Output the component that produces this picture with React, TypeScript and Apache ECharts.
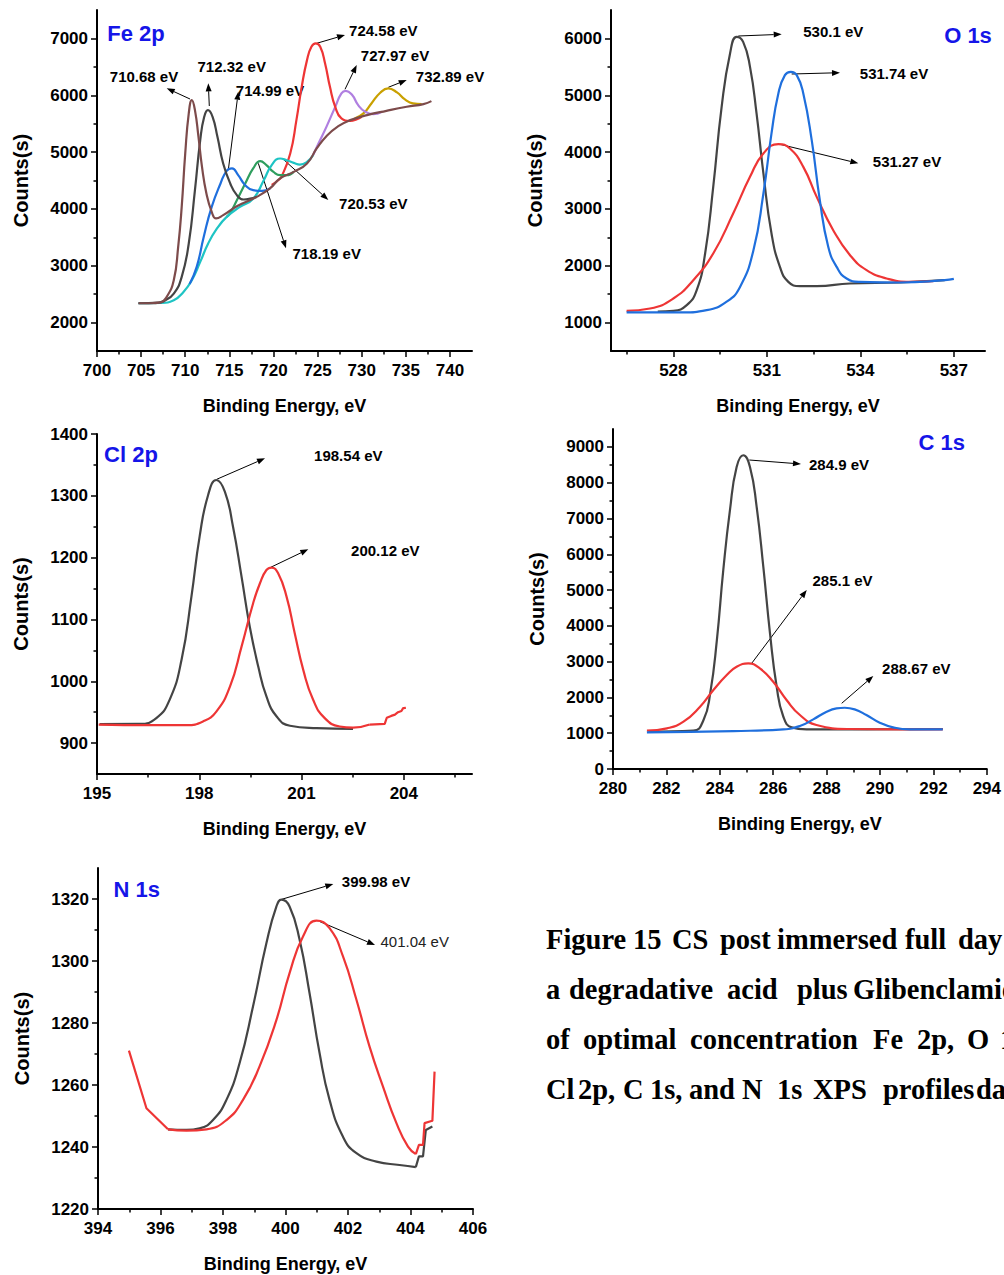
import React, { useEffect, useRef } from 'react';
import * as echarts from 'echarts';

// ---------------- Fe 2p ----------------
const feBrown = [[704.7,2340],[706.0,2340],[707.2,2355],[707.9,2452],[708.7,2746],[709.2,3332],[709.6,4036],[710.0,4976],[710.4,5680],[710.75,5914],[711.1,5738],[711.5,5268],[711.9,4740],[712.4,4272],[713.0,3948],[713.5,3832],[714.3,3890],[715.85,4048],[718.1,4212],[719.6,4360],[720.75,4536],[722.3,4652],[723.8,4800],[724.9,5064],[726.0,5280],[727.35,5456],[728.7,5562],[730.6,5650],[732.8,5726],[735.1,5797],[737.0,5844],[737.9,5897]];
const feGray = [[704.7,2340],[707.0,2350],[707.6,2380],[708.7,2510],[709.6,2804],[710.4,3392],[711.1,4330],[711.7,5210],[712.15,5620],[712.57,5738],[713.1,5620],[713.65,5268],[714.3,4800],[715.1,4448],[715.85,4242],[716.6,4166],[717.35,4180],[718.1,4212]];
const feCyan = [[704.7,2340],[707.2,2345],[708.7,2394],[709.8,2540],[710.75,2746],[711.7,3068],[712.6,3392],[713.6,3656],[714.7,3860],[716.2,4036],[717.7,4180],[718.9,4505],[719.8,4770],[720.75,4887],[721.5,4857],[722.3,4810],[723.0,4781],[723.8,4828],[724.5,4946]];
const feBlue = [[710.5,2680],[711.3,2980],[712.1,3510],[713.0,4036],[714.0,4448],[714.7,4670],[715.3,4712],[716.0,4594],[716.8,4418],[717.7,4330],[718.7,4318],[719.6,4360]];
const feGreen = [[714.7,3860],[715.1,3930],[715.85,4154],[716.8,4448],[717.7,4712],[718.5,4840],[719.2,4770],[720.0,4652],[720.75,4594],[721.5,4594],[722.3,4652]];
const feRed = [[719.8,4420],[720.5,4500],[720.9,4565],[721.9,4976],[722.6,5562],[723.2,6148],[723.8,6618],[724.3,6852],[724.8,6912],[725.3,6852],[725.85,6560],[726.4,6148],[727.0,5796],[727.7,5592],[728.7,5550],[729.4,5574],[730.0,5620]];
const fePurple = [[724.5,4950],[725.1,5152],[726.0,5444],[727.0,5796],[727.7,6032],[728.2,6078],[728.9,6008],[729.6,5826],[730.4,5709],[731.3,5668],[732.3,5710]];
const feGold = [[729.2,5590],[730.2,5680],[731.1,5856],[732.1,6044],[733.0,6120],[734.0,6050],[734.9,5926],[735.8,5856],[736.8,5845]];
const feXTicks = [700,705,710,715,720,725,730,735,740];
const feXMinor = [702.5,707.5,712.5,717.5,722.5,727.5,732.5,737.5];
const feYTicks = [2000,3000,4000,5000,6000,7000];
const feYMinor = [2500,3500,4500,5500,6500];

// ---------------- O 1s ----------------
const oGray = [[527.5,1195],[528.0,1206],[528.43,1306],[528.75,1570],[529.02,2216],[529.28,3388],[529.55,4796],[529.82,5736],[530.03,6028],[530.24,5940],[530.46,5500],[530.67,4680],[530.89,3624],[531.15,2568],[531.42,1980],[531.69,1716],[532.06,1640],[532.6,1640],[533.67,1688],[535.27,1705],[536.71,1746]];
const oRed = [[526.5,1206],[527.25,1248],[528.0,1424],[528.64,1746],[529.28,2216],[529.92,2920],[530.46,3564],[530.89,3976],[531.37,4140],[531.74,4064],[532.17,3740],[532.6,3212],[533.13,2626],[533.67,2186],[534.2,1922],[534.84,1776],[535.59,1716],[536.34,1728]];
const oBlue = [[526.5,1178],[528.3,1178],[529.07,1218],[529.7,1364],[530.14,1628],[530.57,2274],[530.89,3272],[531.15,4328],[531.37,5032],[531.58,5354],[531.77,5412],[531.96,5354],[532.17,5032],[532.44,4210],[532.7,3154],[532.97,2333],[533.24,1980],[533.56,1776],[533.99,1716],[535.27,1705],[536.71,1746],[537.0,1769]];
const oXTicks = [528,531,534,537];
const oXMinor = [526.5,529.5,532.5,535.5];
const oYTicks = [1000,2000,3000,4000,5000,6000];
const oYMinor = [1500,2500,3500,4500,5500];

// ---------------- Cl 2p ----------------
const clGray = [[195.08,930.7],[196.25,931],[196.74,940.4],[197.13,970],[197.48,1034.7],[197.77,1137],[198.01,1234],[198.26,1301.4],[198.5,1325.6],[198.75,1306.7],[198.99,1250],[199.24,1169.3],[199.48,1088.5],[199.73,1023.8],[199.97,975.4],[200.27,943],[200.66,928],[201.44,924.3],[202.51,923.1]];
const clRed = [[195.05,930],[196.55,929],[197.62,929],[198.11,935],[198.5,951],[198.9,991.5],[199.24,1056],[199.58,1126.3],[199.78,1158.6],[199.97,1180],[200.12,1184],[200.31,1175],[200.56,1137],[200.8,1077.8],[201.05,1018.5],[201.34,970],[201.68,940.4],[202.12,926.9],[202.51,925],[203.0,930]];
const clRedTail = [[203.0,930],[203.44,931],[203.5,941],[203.63,944],[203.74,946],[203.83,950],[203.93,952],[203.98,956.6],[204.06,957]];
const clXTicks = [195,198,201,204];
const clXMinor = [196.5,199.5,202.5,205.5];
const clYTicks = [900,1000,1100,1200,1300,1400];
const clYMinor = [950,1050,1150,1250,1350];

// ---------------- C 1s ----------------
const cGray = [[281.33,1041],[283.01,1070],[283.39,1368],[283.64,2113],[283.89,3602],[284.13,5556],[284.38,7231],[284.63,8440],[284.88,8767],[285.13,8440],[285.38,7323],[285.63,5648],[285.88,3788],[286.13,2298],[286.38,1460],[286.69,1164],[287.25,1108],[289.49,1108],[292.35,1117]];
const cRed = [[281.27,1070],[282.02,1136],[282.64,1322],[283.26,1740],[283.76,2206],[284.26,2624],[284.63,2857],[285.07,2950],[285.5,2811],[286.0,2438],[286.5,1927],[287.0,1508],[287.62,1228],[288.87,1117],[290.74,1108],[292.35,1108]];
const cBlue = [[281.27,1024],[284.51,1061],[286.38,1108],[287.0,1201],[287.5,1387],[288.0,1600],[288.37,1694],[288.68,1712],[289.05,1666],[289.49,1508],[289.99,1294],[290.49,1164],[291.11,1108],[292.35,1108]];
const cXTicks = [280,282,284,286,288,290,292,294];
const cXMinor = [281,283,285,287,289,291,293];
const cYTicks = [0,1000,2000,3000,4000,5000,6000,7000,8000,9000];
const cYMinor = [500,1500,2500,3500,4500,5500,6500,7500,8500];

// ---------------- N 1s ----------------
const nGray = [[396.24,1245.7],[396.83,1245.5],[397.25,1246],[397.68,1248.7],[398.11,1255.2],[398.53,1267],[398.96,1285.3],[399.39,1305.8],[399.71,1317.6],[399.87,1319.8],[400.13,1317.6],[400.45,1306.9],[400.77,1289.6],[401.09,1270.3],[401.41,1255.2],[401.84,1243.3],[402.27,1238],[402.91,1235.3],[403.65,1234.2],[404.17,1233.5]];
const nGrayTail = [[404.17,1233.5],[404.27,1237],[404.4,1237],[404.49,1245.5],[404.7,1246.6]];
const nRedHead = [[394.99,1271.1],[395.55,1252.5],[396.24,1245.7]];
const nRed = [[396.24,1245.7],[396.83,1245.3],[397.47,1245.7],[398.11,1248.7],[398.64,1255.2],[399.17,1266],[399.71,1281],[400.13,1296.1],[400.56,1307.9],[400.99,1313],[401.41,1310.6],[401.84,1301.5],[402.27,1287.5],[402.69,1272.4],[403.12,1259.5],[403.55,1247.7],[403.92,1240.1],[404.17,1237.7]];
const nRedTail = [[404.17,1237.7],[404.27,1240.7],[404.4,1240.7],[404.45,1247.7],[404.67,1248.4],[404.7,1248.4],[404.77,1264.3]];
const nXTicks = [394,396,398,400,402,404,406];
const nXMinor = [395,397,399,401,403,405];
const nYTicks = [1220,1240,1260,1280,1300,1320];
const nYMinor = [1230,1250,1270,1290,1310];

const SANS = '"Liberation Sans", Arial, Helvetica, sans-serif';
const SERIF = '"Liberation Serif", "Times New Roman", Times, serif';

const C = {
  brown: '#7d4b4b', gray: '#444444', blue: '#1f6fdd', green: '#2f9e5e', cyan: '#1ec4c4',
  red: '#ee3535', purple: '#b07fe0', gold: '#c9a000', title: '#1515e8',
};

const panels = [
  { grid: { left: 97, top: 10, width: 375, height: 341 }, x: [700, 742.5], y: [1500, 7500], xt: feXTicks, xm: feXMinor, yt: feYTicks, ym: feYMinor },
  { grid: { left: 611, top: 10, width: 374, height: 341 }, x: [526, 538], y: [500, 6500], xt: oXTicks, xm: oXMinor, yt: oYTicks, ym: oYMinor },
  { grid: { left: 97, top: 434, width: 375, height: 340 }, x: [195, 206], y: [850, 1400], xt: clXTicks, xm: clXMinor, yt: clYTicks, ym: clYMinor },
  { grid: { left: 613, top: 429, width: 374, height: 340 }, x: [280, 294], y: [0, 9500], xt: cXTicks, xm: cXMinor, yt: cYTicks, ym: cYMinor },
  { grid: { left: 98, top: 868, width: 375, height: 341 }, x: [394, 406], y: [1220, 1330], xt: nXTicks, xm: nXMinor, yt: nYTicks, ym: nYMinor },
];

const seriesDefs = [
  { p: 0, d: feGold, c: C.gold }, { p: 0, d: fePurple, c: C.purple }, { p: 0, d: feRed, c: C.red },
  { p: 0, d: feGreen, c: C.green }, { p: 0, d: feCyan, c: C.cyan }, { p: 0, d: feBlue, c: C.blue },
  { p: 0, d: feGray, c: C.gray }, { p: 0, d: feBrown, c: C.brown },
  { p: 1, d: oGray, c: C.gray }, { p: 1, d: oRed, c: C.red }, { p: 1, d: oBlue, c: C.blue },
  { p: 2, d: clGray, c: C.gray }, { p: 2, d: clRed, c: C.red }, { p: 2, d: clRedTail, c: C.red, straight: true },
  { p: 3, d: cGray, c: C.gray }, { p: 3, d: cRed, c: C.red }, { p: 3, d: cBlue, c: C.blue },
  { p: 4, d: nGray, c: C.gray }, { p: 4, d: nGrayTail, c: C.gray, straight: true },
  { p: 4, d: nRedHead, c: C.red, straight: true },
  { p: 4, d: nRed, c: C.red }, { p: 4, d: nRedTail, c: C.red, straight: true },
];

// annotations: [x1, y1, x2, y2, label, labelX, labelY, bold]
const annotations: [number, number, number, number, string, number, number, boolean][] = [
  [190, 99, 166.7, 88.3, '710.68 eV', 144, 76.7, true],
  [209.3, 106, 208.3, 83.3, '712.32 eV', 231.7, 66, true],
  [228.3, 170, 238.3, 91.7, '714.99 eV', 270, 90, true],
  [258.3, 163.3, 286, 248.3, '718.19 eV', 326.7, 253.3, true],
  [283.3, 159.3, 328.3, 200, '720.53 eV', 373.3, 203.3, true],
  [316.7, 43.3, 345, 35, '724.58 eV', 383.3, 30, true],
  [345, 89.3, 356.7, 65, '727.97 eV', 395, 55, true],
  [388.3, 87.3, 406.7, 80, '732.89 eV', 450, 76.7, true],
  [738.3, 36, 781.7, 34.3, '530.1 eV', 833.3, 31.7, true],
  [791.7, 74, 840, 72.7, '531.74 eV', 894, 73.3, true],
  [780, 144.3, 858.3, 163.3, '531.27 eV', 907, 161, true],
  [216.7, 479.3, 265, 458.3, '198.54 eV', 348.3, 455, true],
  [270.7, 567.3, 308.3, 549.3, '200.12 eV', 385.3, 550, true],
  [749.3, 460, 801, 464, '284.9 eV', 839, 464, true],
  [751.7, 663.3, 806.7, 590, '285.1 eV', 842.5, 580, true],
  [841.7, 703.3, 873.3, 676, '288.67 eV', 916.3, 668, true],
  [281.7, 899.3, 333.3, 884, '399.98 eV', 376, 881.7, true],
  [320, 921.7, 375, 945, '401.04 eV', 414.7, 941.7, false],
];

const titles: [string, number, number][] = [
  ['Fe 2p', 136, 33], ['O 1s', 968, 35], ['Cl 2p', 131, 454], ['C 1s', 941.7, 442], ['N 1s', 136.7, 889],
];

// caption words: [word, x, baselineY]
const captionWords: [string, number, number][] = [
  ['Figure', 546, 949], ['15', 633, 949], ['CS', 672, 949], ['post', 720, 949], ['immersed', 777, 949], ['full', 905, 949], ['day', 958, 949],
  ['a', 546, 999], ['degradative', 569, 999], ['acid', 727, 999], ['plus', 797, 999], ['Glibenclamide', 853, 999],
  ['of', 546, 1049], ['optimal', 583, 1049], ['concentration', 690, 1049], ['Fe', 873, 1049], ['2p,', 917, 1049], ['O', 967, 1049], ['1s,', 1000, 1049],
  ['Cl', 546, 1099], ['2p,', 578, 1099], ['C', 623, 1099], ['1s,', 650, 1099], ['and', 689, 1099], ['N', 742, 1099], ['1s', 777, 1099], ['XPS', 813, 1099], ['profiles', 883, 1099], ['data', 976, 1099],
];

function arrow(x1: number, y1: number, x2: number, y2: number) {
  const ang = Math.atan2(y2 - y1, x2 - x1);
  const L = 8, W = 3;
  const bx = x2 - L * Math.cos(ang), by = y2 - L * Math.sin(ang);
  const px = -Math.sin(ang) * W, py = Math.cos(ang) * W;
  return [
    { type: 'line', shape: { x1, y1, x2: bx, y2: by }, style: { stroke: '#000', lineWidth: 1 }, silent: true },
    { type: 'polygon', shape: { points: [[x2, y2], [bx + px, by + py], [bx - px, by - py]] }, style: { fill: '#000' }, silent: true },
  ];
}

export default function App() {
  const ref = useRef<HTMLDivElement>(null);
  useEffect(() => {
    if (!ref.current) return;
    const chart = echarts.init(ref.current, undefined, { renderer: 'svg' });
    const tickLine = { color: '#000', width: 1.5 };
    const labelStyle = { color: '#000', fontFamily: SANS, fontWeight: 'bold', fontSize: 17 };
    const xAxis: any[] = [];
    const yAxis: any[] = [];
    panels.forEach((p, i) => {
      xAxis.push({
        type: 'value', gridIndex: i, position: 'bottom', min: p.x[0], max: p.x[1],
        axisLine: { show: true, onZero: false, lineStyle: { color: '#000', width: 2 } },
        axisTick: { show: true, customValues: p.xt, length: 6, lineStyle: tickLine },
        axisLabel: { show: true, customValues: p.xt, margin: 11, formatter: (v: number) => String(v), hideOverlap: false, ...labelStyle },
        splitLine: { show: false },
        name: 'Binding Energy, eV', nameLocation: 'middle', nameGap: 46,
        nameTextStyle: { color: '#000', fontFamily: SANS, fontWeight: 'bold', fontSize: 18 },
      });
      xAxis.push({
        type: 'value', gridIndex: i, position: 'bottom', min: p.x[0], max: p.x[1],
        axisLine: { show: false, onZero: false },
        axisTick: { show: true, customValues: p.xm, length: 3.5, lineStyle: tickLine },
        axisLabel: { show: false }, splitLine: { show: false },
      });
      yAxis.push({
        type: 'value', gridIndex: i, position: 'left', min: p.y[0], max: p.y[1],
        axisLine: { show: true, onZero: false, lineStyle: { color: '#000', width: 2 } },
        axisTick: { show: true, customValues: p.yt, length: 6, lineStyle: tickLine },
        axisLabel: { show: true, customValues: p.yt, margin: 9, formatter: (v: number) => String(v), hideOverlap: false, ...labelStyle },
        splitLine: { show: false },
        name: 'Counts(s)', nameLocation: 'middle', nameGap: 66, nameRotate: 90,
        nameTextStyle: { color: '#000', fontFamily: SANS, fontWeight: 'bold', fontSize: 20 },
      });
      yAxis.push({
        type: 'value', gridIndex: i, position: 'left', min: p.y[0], max: p.y[1],
        axisLine: { show: false, onZero: false },
        axisTick: { show: true, customValues: p.ym, length: 3.5, lineStyle: tickLine },
        axisLabel: { show: false }, splitLine: { show: false },
      });
    });

    const series = seriesDefs.map((s) => ({
      type: 'line', xAxisIndex: s.p * 2, yAxisIndex: s.p * 2, data: s.d,
      showSymbol: false, symbol: 'none',
      smooth: (s as any).straight ? false : 0.5,
      lineStyle: { color: s.c, width: 2.2 }, itemStyle: { color: s.c },
      silent: true, z: 2,
    }));

    const graphic: any[] = [];
    annotations.forEach((a) => {
      graphic.push(...arrow(a[0], a[1], a[2], a[3]));
      graphic.push({
        type: 'text', x: a[5], y: a[6], silent: true,
        style: { text: a[4], fill: a[7] ? '#000' : '#222', font: `${a[7] ? 'bold ' : ''}15px ${SANS}`, align: 'center', verticalAlign: 'middle' },
      });
    });
    titles.forEach((t) => {
      graphic.push({
        type: 'text', x: t[1], y: t[2], silent: true,
        style: { text: t[0], fill: C.title, font: `bold 22px ${SANS}`, align: 'center', verticalAlign: 'middle' },
      });
    });
    captionWords.forEach((w) => {
      graphic.push({
        type: 'text', x: w[1], y: w[2] - 10, silent: true,
        style: { text: w[0], fill: '#000', font: `bold 28.5px ${SERIF}`, align: 'left', verticalAlign: 'middle' },
      });
    });

    chart.setOption({
      animation: false,
      backgroundColor: '#ffffff',
      grid: panels.map((p) => ({ ...p.grid, containLabel: false })),
      xAxis, yAxis, series, graphic,
    });
    return () => chart.dispose();
  }, []);
  return <div ref={ref} style={{ position: 'absolute', left: 0, top: 0, width: 1004, height: 1275 }} />;
}
